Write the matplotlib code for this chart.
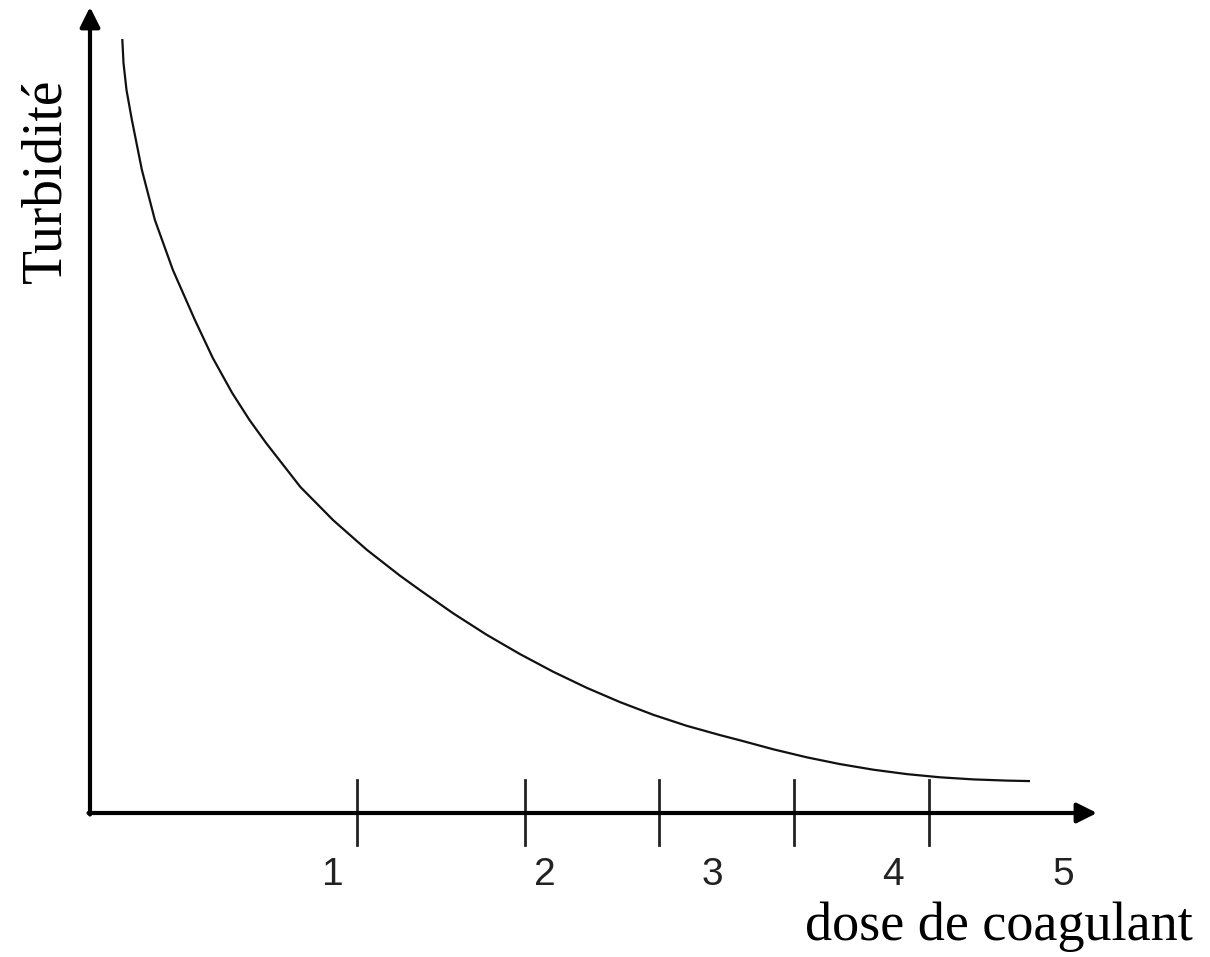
#!/usr/bin/env python3
# -*- coding: utf-8 -*-

import matplotlib
matplotlib.use("Agg")
import matplotlib.pyplot as plt

# curve (arbitrary units, origin at the axes corner)
dose = [0.323, 0.335, 0.365, 0.419, 0.519, 0.649, 0.829, 1.049, 1.228, 1.422,
        1.595, 1.761, 2.104, 2.433, 2.767, 3.100, 3.300, 3.633, 3.967, 4.300,
        4.633, 4.967, 5.300, 5.633, 5.967, 6.300, 6.500, 6.833, 7.167, 7.500,
        7.833, 8.167, 8.500, 8.833, 9.167, 9.400]
turbidite = [7.74, 7.50, 7.23, 6.93, 6.43, 5.93, 5.43, 4.93, 4.55, 4.20,
             3.93, 3.70, 3.26, 2.927, 2.633, 2.373, 2.229, 1.996, 1.782, 1.589,
             1.412, 1.252, 1.109, 0.982, 0.872, 0.779, 0.727, 0.637, 0.557, 0.489,
             0.433, 0.389, 0.357, 0.336, 0.324, 0.319]

# zone limits on the dose axis and the zone numbers between them
zone_limits = [2.67, 4.35, 5.69, 7.04, 8.39]
zone_label_pos = [2.43, 4.55, 6.22, 8.03, 9.73]
zone_labels = ['1', '2', '3', '4', '5']

X_END = 10.07   # tip of the dose arrow
Y_END = 8.06    # tip of the turbidity arrow


def main():
    fig = plt.figure(figsize=(12.10, 9.57), dpi=100)
    ax = fig.add_axes([0, 0, 1, 1])
    ax.set_xlim(-0.90, 11.20)
    ax.set_ylim(-1.44, 8.13)
    ax.axis('off')

    # axes drawn as arrows
    arrow = dict(arrowstyle='-|>', lw=3, color='black', mutation_scale=30, shrinkA=0, shrinkB=0)
    ax.annotate('', xy=(X_END, 0), xytext=(-0.015, 0), arrowprops=arrow)
    ax.annotate('', xy=(0, Y_END), xytext=(0, -0.015), arrowprops=arrow)

    ax.plot(dose, turbidite, color='#111111', lw=1.6, solid_capstyle='butt',
            solid_joinstyle='round')

    for x in zone_limits:
        ax.plot([x, x], [0.33, -0.32], color='#222222', lw=2)

    for x, lab in zip(zone_label_pos, zone_labels):
        ax.text(x, -0.62, lab, ha='center', va='center', fontsize=28,
                family='Liberation Sans', color='#222222')

    ax.text(11.03, -1.27, 'dose de coagulant', ha='right', va='baseline',
            fontsize=39, family='Liberation Serif')
    ax.text(-0.44, 6.32, 'Turbidité', ha='center', va='center', rotation=90,
            fontsize=40, family='Liberation Serif')

    fig.savefig('out.png', dpi=100, facecolor='white')


if __name__ == "__main__":
    main()
